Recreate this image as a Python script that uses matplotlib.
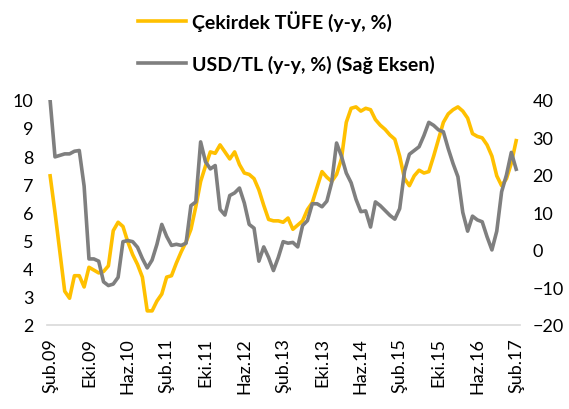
import numpy as np
import matplotlib.pyplot as plt

plt.rcParams['font.family'] = ['Lato', 'DejaVu Sans']

# months from Şub.09 to Şub.17 (97 monthly points)
tick_labels = ["Şub.09", "Eki.09", "Haz.10", "Şub.11", "Eki.11", "Haz.12", "Şub.13",
               "Eki.13", "Haz.14", "Şub.15", "Eki.15", "Haz.16", "Şub.17"]

core_cpi = [7.3, 6.0, 4.6, 3.2, 2.95, 3.75, 3.75, 3.35, 4.05, 3.95,
            3.85, 3.9, 4.1, 5.35, 5.65, 5.5, 4.95, 4.5, 4.15, 3.7,
            2.5, 2.5, 2.85, 3.1, 3.7, 3.75, 4.2, 4.6, 4.95, 5.4,
            6.2, 7.1, 7.65, 8.15, 8.1, 8.4, 8.15, 7.9, 8.15, 7.7,
            7.4, 7.35, 7.2, 6.8, 6.25, 5.75, 5.7, 5.7, 5.65, 5.8,
            5.4, 5.55, 5.7, 6.1, 6.35, 6.9, 7.45, 7.25, 7.1, 7.35,
            7.9, 9.2, 9.7, 9.75, 9.6, 9.7, 9.65, 9.3, 9.1, 8.95,
            8.75, 8.6, 8.0, 7.2, 6.95, 7.3, 7.5, 7.4, 7.45, 8.0,
            8.6, 9.2, 9.5, 9.65, 9.75, 9.6, 9.35, 8.8, 8.7, 8.65,
            8.4, 8.0, 7.3, 6.95, 7.2, 7.75, 8.55]

usd_tl = [39.8, 24.8, 25.2, 25.6, 25.6, 26.3, 26.5, 17.0, -2.4, -2.4,
          -3.0, -8.5, -9.5, -9.1, -7.3, 2.2, 2.5, 2.2, 0.7, -2.3,
          -4.8, -2.7, 1.5, 6.8, 3.6, 1.2, 1.5, 1.2, 1.8, 11.8,
          12.8, 28.8, 23.5, 21.6, 22.5, 10.8, 9.3, 14.5, 15.2, 16.5,
          12.5, 6.8, 5.8, -3.0, 0.8, -2.0, -5.5, -2.0, 2.2, 1.8,
          2.0, 0.8, 6.5, 7.8, 12.3, 12.3, 11.5, 13.0, 18.0, 28.5,
          25.0, 20.5, 17.9, 13.5, 10.2, 10.4, 6.1, 12.8, 11.8, 10.5,
          9.2, 8.2, 11.0, 21.0, 25.5, 26.5, 27.5, 30.5, 34.0, 33.2,
          32.0, 31.5, 27.0, 23.0, 19.5, 10.0, 5.0, 9.0, 8.0, 7.5,
          3.5, 0.0, 5.0, 15.5, 20.0, 26.0, 21.5]

x = np.arange(len(core_cpi))

fig = plt.figure(figsize=(5.69, 4.10), dpi=100)
ax = fig.add_axes([0.083, 0.205, 0.831, 0.549])
ax2 = ax.twinx()

l1, = ax.plot(x, core_cpi, color="#FFC000", linewidth=2.6, solid_joinstyle="round")
l2, = ax2.plot(x, usd_tl, color="#7f7f7f", linewidth=2.6, solid_joinstyle="round")

ax.set_xlim(-0.6, 96.8)
ax.set_ylim(2, 10)
ax2.set_ylim(-20, 40)
ax.set_yticks(range(2, 11))
ax2.set_yticks(range(-20, 41, 10))
ax.set_xticks(x[::8])
ax.set_xticklabels(tick_labels, rotation=90)

for a in (ax, ax2):
    for s in a.spines.values():
        s.set_visible(False)
    a.tick_params(length=0, labelsize=13, colors="black")
ax.spines["bottom"].set_visible(True)
ax.spines["bottom"].set_color("#d9d9d9")
ax.spines["bottom"].set_linewidth(1.2)
ax.tick_params(axis="y", pad=10)
ax.tick_params(axis="x", pad=9)
ax2.tick_params(axis="y", pad=9)

fig.legend([l1, l2], ["Çekirdek TÜFE (y-y, %)", "USD/TL (y-y, %) (Sağ Eksen)"],
           loc="upper left", bbox_to_anchor=(128 / 569, 1 - 1 / 410),
           frameon=False, handlelength=2.5, handletextpad=0.3, labelspacing=1.25,
           borderpad=0, prop={"weight": "bold", "size": 14})

fig.savefig("out.png", dpi=100)
